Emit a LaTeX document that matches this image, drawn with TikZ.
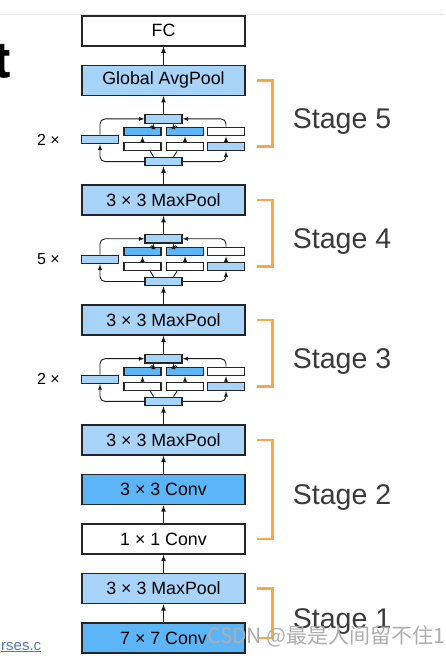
\documentclass[tikz,border=0pt]{standalone}
\usepackage{fontspec}
\setmainfont{Liberation Sans}
\newfontfamily\cjkfont{Noto Sans CJK SC}
\newfontfamily\titlefont{Liberation Sans Bold}[FakeBold=1.5]
\usetikzlibrary{arrows,positioning}

\definecolor{lblue}{RGB}{169,212,249}
\definecolor{dblue}{RGB}{92,181,246}
\definecolor{stageorange}{RGB}{245,169,74}
\definecolor{stagegray}{RGB}{58,58,58}
\definecolor{linkblue}{RGB}{84,118,176}

\begin{document}
\begin{tikzpicture}[
    x=1pt, y=1pt,
    node distance=18pt,
    block/.style={rectangle,draw=black!85,line width=1.5pt,minimum width=163pt,minimum height=30pt,inner sep=0pt,font=\fontsize{17.8}{20}\selectfont},
    sbox/.style={rectangle,draw=black!85,line width=1.2pt,minimum width=37pt,minimum height=8.5pt,inner sep=0pt},
    line/.style={draw=black!90,line width=1.2pt,-latex},
    iline/.style={draw=black!90,line width=0.9pt,-latex},
    bracket/.style={draw=stageorange,line width=2.6pt},
    stage/.style={text=stagegray,font=\fontsize{28.5}{32}\selectfont,anchor=west,inner sep=0pt},
    times/.style={font=\fontsize{16}{18}\selectfont,inner sep=0pt}]

    \useasboundingbox (0,0) rectangle (445,658);

    % Slide background bits
    \draw[black!8,line width=1pt] (0,643) -- (445,643);
    \node[font=\titlefont\fontsize{50}{54}\selectfont,anchor=base east,inner sep=0pt] (title) at (10,581) {t};
    \node[font=\fontsize{15}{17}\selectfont,text=linkblue,anchor=base west,inner sep=0pt] (link) at (1,8) {\underline{rses.c}};

    % Stage 1 and 2
    \node[block,fill=dblue] (conv7) at (163.5,20) {7 × 7 Conv};
    \node[block,fill=lblue,above=of conv7] (mp1) {3 × 3 MaxPool};
    \node[block,fill=white,above=of mp1] (conv1) {1 × 1 Conv};
    \node[block,fill=dblue,above=of conv1] (conv3) {3 × 3 Conv};
    \node[block,fill=lblue,above=of conv3] (mp2) {3 × 3 MaxPool};

    \path[line] (conv7) -- (mp1);
    \path[line] (mp1) -- (conv1);
    \path[line] (conv1) -- (conv3);
    \path[line] (conv3) -- (mp2);

    % Stage 3, 4 and 5: residual blocks
    \foreach \s/\prev/\next/\txt/\rep in {3/mp2/mp3/3 × 3 MaxPool/2, 4/mp3/mp4/3 × 3 MaxPool/5, 5/mp4/gap/Global AvgPool/2} {
        \node[sbox,fill=lblue,above=of \prev] (bot\s) {};
        \node[sbox,fill=lblue,above=33pt of bot\s] (top\s) {};
        \node[sbox,fill=white,above=5.3pt of bot\s,xshift=-21pt] (c1l\s) {};
        \node[sbox,fill=white,above=5.3pt of bot\s,xshift=21.5pt] (c2l\s) {};
        \node[sbox,fill=lblue,above=5.3pt of bot\s,xshift=62.5pt] (c3l\s) {};
        \node[sbox,fill=dblue,above=5.3pt of c1l\s] (c1u\s) {};
        \node[sbox,fill=dblue,above=5.3pt of c2l\s] (c2u\s) {};
        \node[sbox,fill=white,above=5.3pt of c3l\s] (c3u\s) {};
        \node[sbox,fill=lblue,above=12.3pt of bot\s,xshift=-63.5pt] (left\s) {};
        \node[times,left=21pt of left\s] (rep\s) {\rep{} ×};
        \node[block,fill=lblue,above=of top\s] (\next) {\txt};

        \path[line] (\prev) -- (bot\s);
        \path[line] (top\s) -- (\next);
        \path[iline,rounded corners=5pt] (bot\s.west) -| (left\s.south);
        \path[iline,rounded corners=5pt] (left\s.north) |- (top\s.west);
        \path[iline,rounded corners=5pt] (bot\s.east) -| (c3l\s.south);
        \path[iline,rounded corners=5pt] (c3u\s.north) |- (top\s.east);
        \path[iline] (c3l\s) -- (c3u\s);
        \path[iline] (c1l\s) -- (c1u\s);
        \path[iline] (c2l\s) -- (c2u\s);
        \path[draw=black!90,line width=0.9pt] ([xshift=-10pt]bot\s.north) to[out=90,in=-90] ([xshift=8pt]c1l\s.south);
        \path[draw=black!90,line width=0.9pt] ([xshift=10pt]bot\s.north) to[out=90,in=-90] ([xshift=-8pt]c2l\s.south);
        \path[iline] ([xshift=8pt]c1u\s.north) to[out=90,in=-90] ([xshift=-10pt]top\s.south);
        \path[iline] ([xshift=-8pt]c2u\s.north) to[out=90,in=-90] ([xshift=10pt]top\s.south);
    }

    \node[block,fill=white,above=of gap] (fc) {FC};
    \path[line] (gap) -- (fc);

    % Stage brackets
    \foreach \s/\up/\low in {5/gap/c3l5, 4/mp4/c3l4, 3/mp3/c3l3, 2/mp2/conv1, 1/mp1/conv7} {
        \path (\up.east) ++(11,0) coordinate (bu\s);
        \path (\low -| bu\s) coordinate (bl\s);
        \draw[bracket] (bu\s) -- ++(16,0) |- (bl\s);
        \path (bu\s) -- (bl\s) node[stage,midway,xshift=36pt,yshift=-8pt] (st\s) {Stage \s};
    }

    % Watermark
    \node[font=\fontsize{21}{24}\selectfont\cjkfont,text=black!32,anchor=west,inner sep=0pt] (mark) at (207,22) {CSDN @最是人间留不住1};
\end{tikzpicture}
\end{document}
